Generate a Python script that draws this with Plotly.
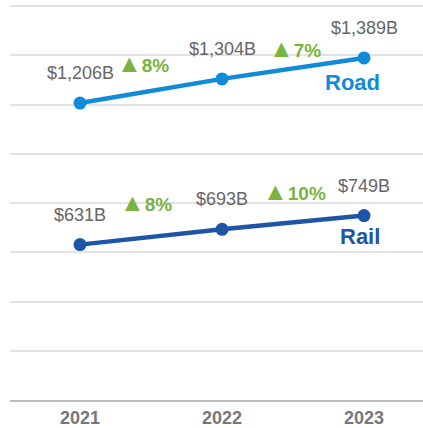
import plotly.graph_objects as go

years = [2021, 2022, 2023]
road = [1206, 1304, 1389]
rail = [631, 693, 749]
road_labels = ["$1,206B", "$1,304B", "$1,389B"]
rail_labels = ["$631B", "$693B", "$749B"]
road_growth = ["8%", "7%"]
rail_growth = ["8%", "10%"]
series_names = ["Road", "Rail"]

ROAD_C = "#0f8bd8"
RAIL_C = "#1f55a6"
GREEN = "#79b43f"
GRAY = "#666666"

fig = go.Figure()
for vals, col in [(road, ROAD_C), (rail, RAIL_C)]:
    fig.add_trace(go.Scatter(x=years, y=vals, mode="lines+markers",
                             line=dict(color=col, width=4.5),
                             marker=dict(color=col, size=13),
                             hoverinfo="skip", showlegend=False))

ann = []
FONT = "Liberation Sans, Arial, sans-serif"
for vals, labs in [(road, road_labels), (rail, rail_labels)]:
    for x, v, t in zip(years, vals, labs):
        ann.append(dict(x=x, y=v, text=t, showarrow=False, yshift=30,
                        xanchor="center", yanchor="middle",
                        font=dict(family=FONT, size=18, color=GRAY)))

pct_shifts = {"Road": [(-8, 16), (2, 10)], "Rail": [(-5, 27), (1, 25)]}
for name, vals, gr in [("Road", road, road_growth), ("Rail", rail, rail_growth)]:
    for i, g in enumerate(gr):
        xs, ys = pct_shifts[name][i]
        ann.append(dict(x=(years[i] + years[i + 1]) / 2, y=vals[i + 1],
                        text="<span style='font-size:25px'>▲</span><b>" + g + "</b>",
                        showarrow=False,
                        xshift=xs, yshift=ys, xanchor="center", yanchor="middle",
                        font=dict(family=FONT, size=19, color=GREEN)))

for name, vals, col, ysh in [(series_names[0], road, ROAD_C, -25), (series_names[1], rail, RAIL_C, -21)]:
    ann.append(dict(x=years[-1], y=vals[-1], text="<b>" + name + "</b>", showarrow=False,
                    xshift=18, yshift=ysh, xanchor="right", yanchor="middle",
                    font=dict(family=FONT, size=22, color=col)))

fig.update_layout(
    width=423, height=428,
    margin=dict(l=10, r=0, t=0, b=28),
    paper_bgcolor="white", plot_bgcolor="white",
    annotations=ann,
    xaxis=dict(range=[2020.507, 2023.415], tickvals=years,
               ticktext=["<b>%d</b>" % y for y in years],
               tickfont=dict(family=FONT, size=18, color="#777777"),
               showgrid=False, zeroline=False, showline=True,
               linecolor="#bdbdbd", linewidth=2, ticks=""),
    yaxis=dict(range=[0, 1624.4], tickvals=[200, 400, 600, 800, 1000, 1200, 1400, 1600],
               showticklabels=False,
               gridcolor="#e3e3e3", gridwidth=1.5, zeroline=False, showline=False),
)
fig.write_html("out.html")
